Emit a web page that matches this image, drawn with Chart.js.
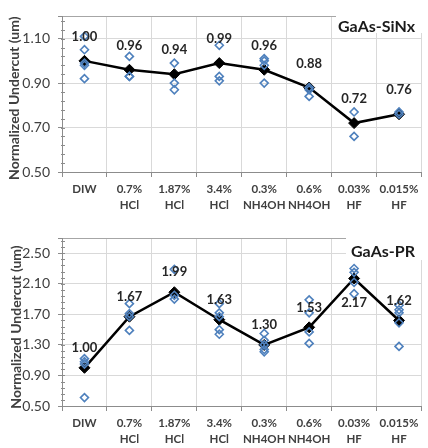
<!DOCTYPE html>
<html>
<head>
<meta charset="utf-8">
<script src="https://cdn.jsdelivr.net/npm/chart.js@4.4.0/dist/chart.umd.min.js"></script>
<style>
  html, body { margin: 0; padding: 0; background: #fff; }
  body { width: 428px; height: 448px; position: relative; overflow: hidden; }
  canvas { position: absolute; left: 0; }
  #c1 { top: 0; }
  #c2 { top: 220px; }
</style>
</head>
<body>
<canvas id="c1" width="428" height="220"></canvas>
<canvas id="c2" width="428" height="228"></canvas>
<script>
// ---------- data ----------
const categories = [['DIW'], ['0.7%', 'HCl'], ['1.87%', 'HCl'], ['3.4%', 'HCl'],
                    ['0.3%', 'NH4OH'], ['0.6%', 'NH4OH'], ['0.03%', 'HF'], ['0.015%', 'HF']];

const sinxTitle = 'GaAs-SiNx';
const sinxMeans = [1.00, 0.96, 0.94, 0.99, 0.96, 0.88, 0.72, 0.76];
const sinxPoints = [
  [1.11, 1.05, 0.99, 0.98, 0.92],
  [1.02, 0.93, 0.93],
  [0.99, 0.90, 0.87],
  [1.07, 0.93, 0.91],
  [1.01, 1.00, 0.98, 0.90],
  [0.88, 0.87, 0.84],
  [0.77, 0.66],
  [0.77, 0.76]
];
const sinxTicks = [0.50, 0.70, 0.90, 1.10];
const sinxMin = 0.5, sinxMax = 1.2, sinxMinorStep = 0.04;

const prTitle = 'GaAs-PR';
const prMeans = [1.00, 1.67, 1.99, 1.63, 1.30, 1.53, 2.17, 1.62];
const prPoints = [
  [1.12, 1.08, 1.05, 0.61],
  [1.84, 1.71, 1.67, 1.49],
  [2.29, 1.95, 1.90],
  [1.84, 1.72, 1.67, 1.50, 1.44],
  [1.45, 1.36, 1.30, 1.24, 1.21],
  [1.89, 1.72, 1.47, 1.32],
  [2.30, 2.25, 2.12, 1.97],
  [1.82, 1.76, 1.72, 1.59, 1.28]
];
const prTicks = [0.50, 0.90, 1.30, 1.70, 2.10, 2.50];
const prMin = 0.5, prMax = 2.7, prMinorStep = 0.08;
// label placement relative to the mean marker (1 = above, -1 = below)
const prLabelSide = [1, 1, 1, 1, 1, 1, -1, 1];
const sinxLabelSide = [1, 1, 1, 1, 1, 1, 1, 1];

const yTitle = 'Normalized Undercut (um)';

// ---------- helpers ----------
const FONT = 'Lato, "Open Sans", sans-serif';
const BLUE = '#4f81bd';

function scatterData(points) {
  const out = [];
  points.forEach((vals, i) => vals.forEach(v => out.push({ x: i, y: v })));
  return out;
}

function makeChart(id, cfg) {
  const decor = {
    id: 'decor_' + id,
    beforeDatasetsDraw(chart) {
      const y = chart.scales.y;
      const ctx = chart.ctx;
      const x0 = chart.chartArea.left;
      ctx.save();
      ctx.strokeStyle = '#8c8c8c';
      ctx.lineWidth = 1;
      ctx.beginPath();
      for (let v = cfg.min + cfg.minor; v < cfg.max - 1e-9; v += cfg.minor) {
        const py = Math.round(y.getPixelForValue(v)) + 0.5;
        ctx.moveTo(x0 - 1, py);
        ctx.lineTo(x0 + 3, py);
      }
      ctx.stroke();
      const b = cfg.box;
      ctx.fillStyle = '#ffffff';
      ctx.fillRect(b[0], b[1], b[2], b[3]);
      ctx.restore();
    },
    afterDatasetsDraw(chart) {
      const meta = chart.getDatasetMeta(1);
      const ctx = chart.ctx;
      ctx.save();
      ctx.font = 'bold 13px ' + FONT;
      ctx.fillStyle = '#262626';
      ctx.textAlign = 'center';
      ctx.textBaseline = 'middle';
      meta.data.forEach((pt, i) => {
        const dy = cfg.sides[i] > 0 ? -cfg.above : cfg.below;
        ctx.fillText(cfg.means[i].toFixed(2), pt.x, pt.y + dy);
      });
      ctx.restore();
    },
    afterDraw(chart) {
      const ctx = chart.ctx;
      const ca = chart.chartArea;
      ctx.save();
      ctx.font = 'bold 16px ' + FONT;
      ctx.fillStyle = '#1a1a1a';
      ctx.textAlign = 'left';
      ctx.textBaseline = 'alphabetic';
      ctx.fillText(cfg.title, cfg.tx, cfg.ty);
      ctx.restore();
      ctx.save();
      ctx.translate(cfg.yx, (ca.top + ca.bottom) / 2 + cfg.yShift);
      ctx.rotate(-Math.PI / 2);
      ctx.font = 'bold 14px ' + FONT;
      ctx.fillStyle = '#404040';
      ctx.textAlign = 'center';
      ctx.textBaseline = 'middle';
      ctx.fillText(yTitle, 0, 0);
      ctx.restore();
    }
  };

  return new Chart(document.getElementById(id), {
    type: 'line',
    data: {
      labels: categories,
      datasets: [
        {
          data: scatterData(cfg.points),
          xAxisID: 'xs',
          showLine: false,
          pointStyle: 'rectRot',
          pointRadius: 4,
          borderWidth: 1.6,
          pointBorderWidth: 1.6,
          borderColor: BLUE,
          pointBorderColor: BLUE,
          pointBackgroundColor: 'rgba(255,255,255,0)',
          backgroundColor: 'rgba(255,255,255,0)'
        },
        {
          data: cfg.means,
          xAxisID: 'x',
          borderColor: '#000',
          borderWidth: 2.5,
          pointStyle: 'rectRot',
          pointRadius: 5.5,
          pointBackgroundColor: '#000',
          pointBorderColor: '#000',
          pointBorderWidth: 1,
          tension: 0,
          fill: false
        }
      ]
    },
    options: {
      responsive: false,
      animation: false,
      events: [],
      layout: { padding: { top: cfg.padTop, left: 0, right: 0, bottom: 0 } },
      plugins: {
        legend: { display: false },
        tooltip: { enabled: false }
      },
      scales: {
        x: {
          type: 'category',
          offset: true,
          afterFit(s) { s.height = cfg.xHeight; },
          grid: {
            offset: true,
            color: '#d9d9d9',
            tickColor: '#8c8c8c',
            tickLength: 5,
            drawTicks: true
          },
          border: { color: '#8c8c8c', width: 1 },
          ticks: {
            maxRotation: 0,
            autoSkip: false,
            padding: 5,
            color: '#404040',
            font: { family: FONT, size: 11.5, weight: 'bold', lineHeight: 1.35 }
          }
        },
        xs: {
          type: 'linear',
          display: false,
          min: -0.5,
          max: categories.length - 0.5
        },
        y: {
          min: cfg.min,
          max: cfg.max,
          afterFit(s) { s.width = 62; },
          afterBuildTicks(s) {
            s.ticks = cfg.ticks.concat([cfg.max]).map(v => ({ value: v }));
          },
          grid: {
            color: ctx => (ctx.tick && Math.abs(ctx.tick.value - cfg.max) < 1e-9) ? '#a6a6a6' : '#d9d9d9',
            tickColor: '#8c8c8c',
            tickLength: 4
          },
          border: { color: '#8c8c8c', width: 1 },
          ticks: {
            padding: 8,
            color: '#404040',
            font: { family: FONT, size: 14 },
            callback: v => (Math.abs(v - cfg.max) < 1e-9) ? '' : Number(v).toFixed(2)
          }
        }
      }
    },
    plugins: [decor]
  });
}

makeChart('c1', {
  points: sinxPoints, means: sinxMeans, ticks: sinxTicks,
  min: sinxMin, max: sinxMax, minor: sinxMinorStep,
  padTop: 5, xHeight: 48, yx: 14, yShift: 4,
  sides: sinxLabelSide, above: 24, below: 24,
  box: [336, 6, 88, 27], title: sinxTitle, tx: 338, ty: 32
});

makeChart('c2', {
  points: prPoints, means: prMeans, ticks: prTicks,
  min: prMin, max: prMax, minor: prMinorStep,
  padTop: 18, xHeight: 42, yx: 16, yShift: 5,
  sides: prLabelSide, above: 20, below: 24,
  box: [346, 12, 78, 28], title: prTitle, tx: 351, ty: 37
});
</script>
</body>
</html>
